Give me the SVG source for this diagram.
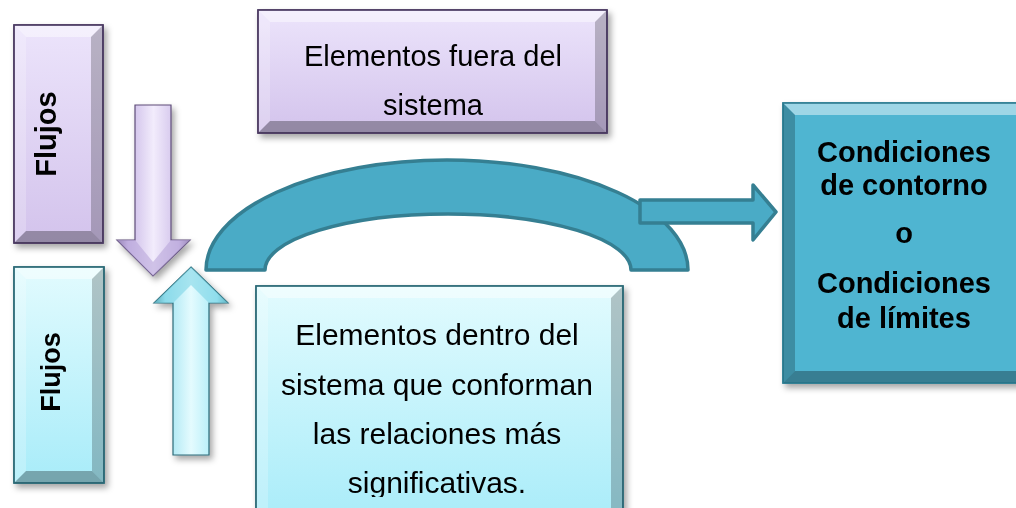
<svg xmlns="http://www.w3.org/2000/svg" width="1016" height="508" viewBox="0 0 1016 508">
  <defs>
    <linearGradient id="gPurple" x1="0" y1="0" x2="0" y2="1">
      <stop offset="0" stop-color="#ece4fb"/>
      <stop offset="1" stop-color="#d3c3ec"/>
    </linearGradient>
    <linearGradient id="gCyan" x1="0" y1="0" x2="0" y2="1">
      <stop offset="0" stop-color="#e2fbfe"/>
      <stop offset="1" stop-color="#a8ecf9"/>
    </linearGradient>
    <linearGradient id="gPurpleArrow" x1="0" y1="0" x2="1" y2="0">
      <stop offset="0" stop-color="#6d5a86"/>
      <stop offset="0.15" stop-color="#c9b8e6"/>
      <stop offset="0.5" stop-color="#f2ecfc"/>
      <stop offset="0.85" stop-color="#cdbde8"/>
      <stop offset="1" stop-color="#7b6896"/>
    </linearGradient>
    <linearGradient id="gCyanArrow" x1="0" y1="0" x2="1" y2="0">
      <stop offset="0" stop-color="#2f6e7a"/>
      <stop offset="0.15" stop-color="#9fe3f1"/>
      <stop offset="0.5" stop-color="#e4fbfe"/>
      <stop offset="0.85" stop-color="#a9ebf7"/>
      <stop offset="1" stop-color="#3d8796"/>
    </linearGradient>
    <filter id="shadow" x="-20%" y="-20%" width="140%" height="140%">
      <feDropShadow dx="3" dy="4" stdDeviation="3" flood-color="#000" flood-opacity="0.35"/>
    </filter>
    <clipPath id="clipBottom">
      <rect x="250" y="280" width="380" height="217"/>
    </clipPath>
    <style>
      .pbox { fill: url(#gPurple); stroke: #4b3b63; stroke-width: 1.5; }
      .cbox { fill: url(#gCyan); stroke: #2c6b78; stroke-width: 1.5; }
      .tbox { fill: #4fb5d1; stroke: #2d7d92; stroke-width: 1.5; }
      .hl { fill: #ffffff; opacity: 0.45; }
      .hl2 { fill: #ffffff; opacity: 0.22; }
      .dk { fill: #000000; opacity: 0.22; }
      .dk2 { fill: #000000; opacity: 0.3; }
      .arc { fill: #4aabc6; stroke: #357f92; stroke-width: 3.5; stroke-linejoin: round; }
      .t { font-family: "Liberation Sans", Arial, sans-serif; fill: #000; text-anchor: middle; }
      .reg { font-size: 29px; }
      .bold { font-size: 29px; font-weight: bold; }
    </style>
  </defs>

  <!-- Flujos (top, purple) -->
  <g id="flujos-top" filter="url(#shadow)">
    <rect class="pbox" x="14" y="25" width="89" height="218"/>
    <polygon class="hl" points="14,25 103,25 91,37 26,37"/>
    <polygon class="hl2" points="14,25 26,37 26,231 14,243"/>
    <polygon class="dk" points="103,25 103,243 91,231 91,37"/>
    <polygon class="dk2" points="14,243 103,243 91,231 26,231"/>
    <rect x="14" y="25" width="89" height="218" fill="none" stroke="#4b3b63" stroke-width="1.5"/>
    <text class="t bold" transform="translate(56,134) rotate(-90)">Flujos</text>
  </g>

  <!-- Flujos (bottom, cyan) -->
  <g id="flujos-bottom" filter="url(#shadow)">
    <rect class="cbox" x="14" y="267" width="90" height="216"/>
    <polygon class="hl" points="14,267 104,267 92,279 26,279"/>
    <polygon class="hl2" points="14,267 26,279 26,471 14,483"/>
    <polygon class="dk" points="104,267 104,483 92,471 92,279"/>
    <polygon class="dk2" points="14,483 104,483 92,471 26,471"/>
    <rect x="14" y="267" width="90" height="216" fill="none" stroke="#2c6b78" stroke-width="1.5"/>
    <text class="t" font-weight="bold" font-size="27" transform="translate(60,372) rotate(-90)">Flujos</text>
  </g>

  <!-- Elementos fuera del sistema -->
  <g id="fuera" filter="url(#shadow)">
    <rect class="pbox" x="258" y="10" width="349" height="123"/>
    <polygon class="hl" points="258,10 607,10 595,22 270,22"/>
    <polygon class="hl2" points="258,10 270,22 270,121 258,133"/>
    <polygon class="dk" points="607,10 607,133 595,121 595,22"/>
    <polygon class="dk2" points="258,133 607,133 595,121 270,121"/>
    <rect x="258" y="10" width="349" height="123" fill="none" stroke="#4b3b63" stroke-width="1.5"/>
    <text class="t reg" x="433" y="66">Elementos fuera del</text>
    <text class="t reg" x="433" y="115">sistema</text>
  </g>

  <!-- Elementos dentro del sistema -->
  <g id="dentro" filter="url(#shadow)">
    <rect class="cbox" x="256" y="286" width="367" height="240"/>
    <polygon class="hl" points="256,286 623,286 611,298 268,298"/>
    <polygon class="hl2" points="256,286 268,298 268,526 256,526"/>
    <polygon class="dk" points="623,286 623,526 611,526 611,298"/>
    <rect x="256" y="286" width="367" height="240" fill="none" stroke="#2c6b78" stroke-width="1.5"/>
    <g clip-path="url(#clipBottom)">
      <text class="t" font-size="30" x="437" y="345">Elementos dentro del</text>
      <text class="t" font-size="30" x="437" y="395">sistema que conforman</text>
      <text class="t" font-size="30" x="437" y="444">las relaciones más</text>
      <text class="t" font-size="30" x="437" y="493">significativas.</text>
    </g>
  </g>

  <!-- Condiciones -->
  <g id="condiciones" filter="url(#shadow)">
    <rect class="tbox" x="783" y="103" width="250" height="280"/>
    <polygon class="hl" points="783,103 1033,103 1021,115 795,115" opacity="0.25"/>
    <polygon class="dk" points="783,103 795,115 795,371 783,383"/>
    <polygon class="dk2" points="783,383 1033,383 1021,371 795,371"/>
    <rect x="783" y="103" width="250" height="280" fill="none" stroke="#2d7d92" stroke-width="1.5"/>
    <text class="t bold" x="904" y="162">Condiciones</text>
    <text class="t bold" x="904" y="195">de contorno</text>
    <text class="t bold" x="904" y="243">o</text>
    <text class="t bold" x="904" y="293">Condiciones</text>
    <text class="t bold" x="904" y="328">de límites</text>
  </g>

  <!-- Connectors -->
  <g id="connectors">
    <polygon id="arrow-down" points="135,105 171,105 171,240 190,240 153,276 117,240 135,240" fill="url(#gPurpleArrow)" stroke="#5e4d78" stroke-width="1.2" filter="url(#shadow)"/>
    <polygon points="117,240 135,240 153,262 171,240 190,240 153,276" fill="#b9a6da" opacity="0.6"/>
    <polygon id="arrow-up" points="191,267 228,303 209,303 209,455 173,455 173,303 154,303" fill="url(#gCyanArrow)" stroke="#2c6b78" stroke-width="1.2" filter="url(#shadow)"/>
    <polygon points="191,267 228,303 209,303 191,285 173,303 154,303" fill="#7fd5e6" opacity="0.6"/>
    <path id="arch" class="arc" d="M206,270 A241,110 0 0 1 688,270 L631,270 A183,56 0 0 0 265,270 Z"/>
    <polygon id="arrow-right" class="arc" points="640,200 753,200 753,185 776,212 753,240 753,223 640,223"/>
  </g>
</svg>
